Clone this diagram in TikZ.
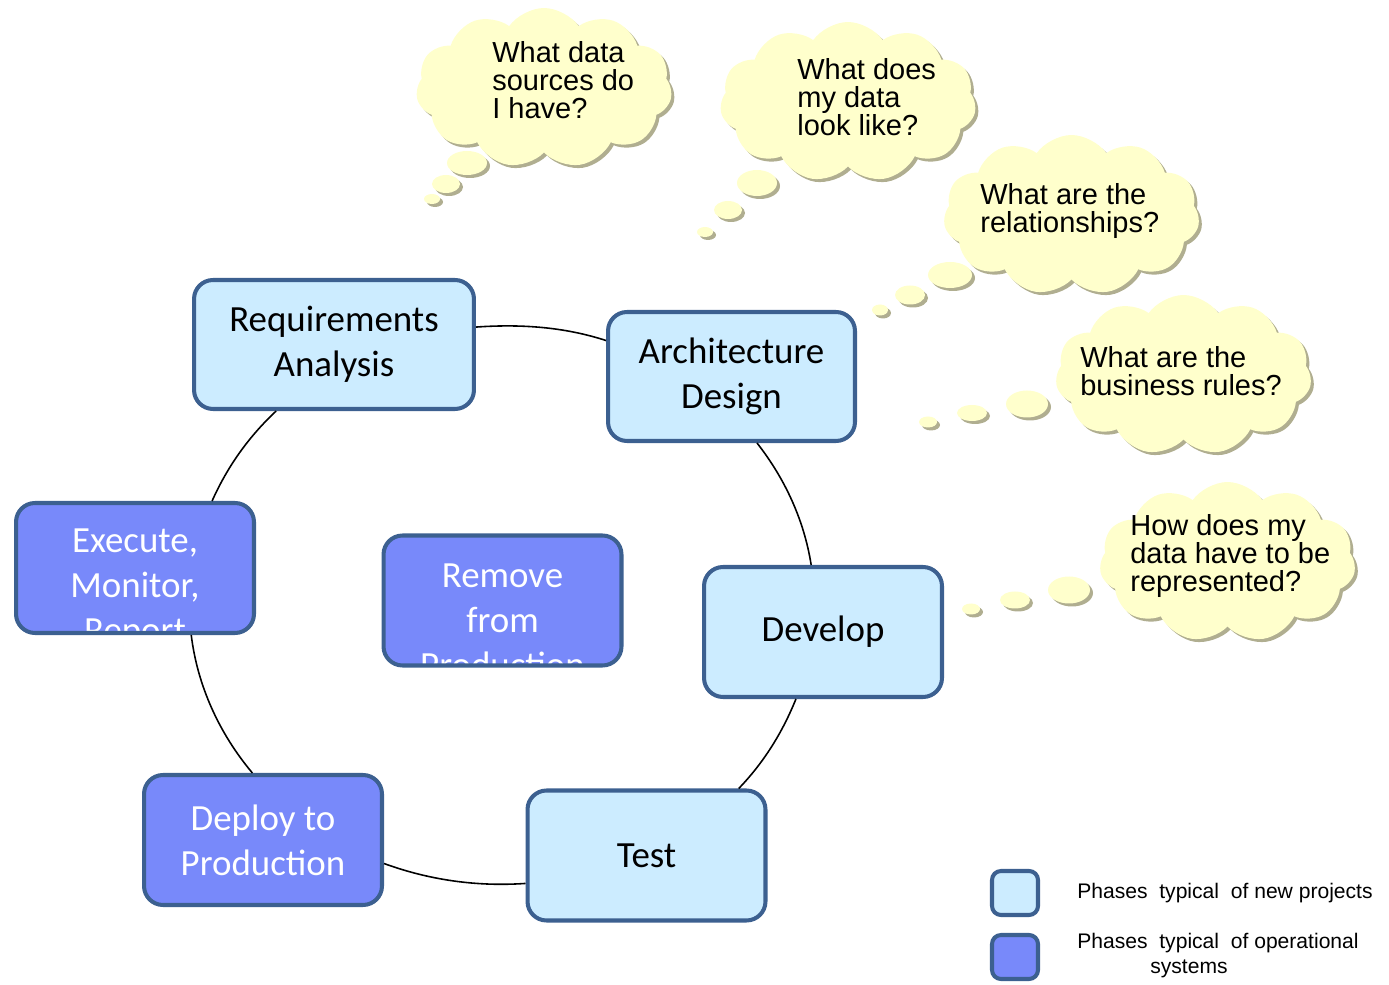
\documentclass[tikz,border=0pt]{standalone}
\usepackage{fontspec}
\setmainfont{Carlito}
\newfontfamily\arialfont{Liberation Sans}
\usetikzlibrary{shapes.symbols,shapes.geometric,shadows}
\definecolor{newfill}{HTML}{CCECFF}
\definecolor{opfill}{HTML}{7889FA}
\definecolor{phaseline}{HTML}{3C6090}
\definecolor{thoughtfill}{HTML}{FFFFCC}
\definecolor{thoughtshade}{HTML}{B0AE90}

\begin{document}
\begin{tikzpicture}[
  x = 0.02cm, y = 0.02cm,
  phase/.style = {draw = phaseline, line width = 2.3pt, rounded corners = 0.38cm,
                  minimum width = 4.76cm, minimum height = 2.6cm, align = center,
                  font = \fontsize{21}{25.6}\selectfont},
  newphase/.style = {phase, fill = newfill},
  oldphase/.style = {phase, fill = opfill, text = white},
  cliptext/.style = {draw = none, fill = none, path picture = {}, inner sep = 0pt,
                     minimum size = 0pt, align = center, text = white,
                     font = \fontsize{21}{25.6}\selectfont},
  shade/.style = {drop shadow = {shadow xshift = 0.06cm, shadow yshift = -0.06cm,
                  fill = thoughtshade, opacity = 1}},
  thought/.style = {cloud, cloud puffs = 11, cloud puff arc = 110, aspect = 1.6,
                    fill = thoughtfill, inner sep = 0pt, shade,
                    minimum width = 5.12cm, minimum height = 3.2cm},
  bubble/.style = {ellipse, fill = thoughtfill, inner sep = 0pt, shade},
  question/.style = {anchor = west, inner sep = 0pt, align = left,
                     font = \arialfont\fontsize{16.5}{16}\selectfont},
  key/.style = {phase, minimum width = 0.92cm, minimum height = 0.88cm,
                rounded corners = 0.18cm},
  legend/.style = {inner sep = 0pt, font = \arialfont\fontsize{12}{14}\selectfont},
  ring/.style = {line width = 0.9pt, looseness = 0.87},
  ]
  \useasboundingbox (0,0) rectangle (1389,984);

  \node[newphase, minimum width = 5.6cm, minimum height = 2.58cm] (req) at (334,639.5)
    {Requirements\\Analysis};
  \node[newphase, minimum width = 4.94cm, minimum height = 2.58cm] (arch) at (731.5,607.5)
    {Architecture\\Design};
  \node[newphase] (dev) at (823,352) {Develop};
  \node[newphase] (test) at (646.5,128.5) {Test};
  \node[oldphase] (deploy) at (263,144) {Deploy to\\Production};
  \node[oldphase, path picture = {
      \node[cliptext] (execlabel) at ([yshift = -0.42cm]path picture bounding box.center)
        {Execute,\\Monitor,\\Report};}] (exec) at (135,416) {};
  \node[oldphase, path picture = {
      \node[cliptext] (removelabel) at ([yshift = -0.41cm]path picture bounding box.center)
        {Remove\\from\\Production};}] (remove) at (502.5,383.5) {};

  \draw[ring] (req.7) to[out = 4, in = 162] (arch.164);
  \draw[ring] (arch.-69) to[out = -52, in = 99] (dev.100);
  \draw[ring] (dev.248) to[out = 248, in = 46] (test.36);
  \draw[ring] (test.193) to[out = 184, in = -20] (deploy.-11);
  \draw[ring] (deploy.99) to[out = 130, in = -83] (exec.-50);
  \draw[ring] (exec.41) to[out = 66, in = 223] (req.229);

  \node[thought] (sources) at (544,896) {};
  \node[bubble, minimum width = 0.8cm, minimum height = 0.48cm] (sources1) at (467,821) {};
  \node[bubble, minimum width = 0.56cm, minimum height = 0.36cm] (sources2) at (446,800) {};
  \node[bubble, minimum width = 0.32cm, minimum height = 0.2cm] (sources3) at (432,785) {};
  \node[question] (sourcesq) at (492,904) {What data\\sources do\\I have?};

  \node[thought] (looks) at (848,882) {};
  \node[bubble, minimum width = 0.8cm, minimum height = 0.52cm] (looks1) at (757,801) {};
  \node[bubble, minimum width = 0.56cm, minimum height = 0.36cm] (looks2) at (728,774) {};
  \node[bubble, minimum width = 0.32cm, minimum height = 0.2cm] (looks3) at (705,752) {};
  \node[question] (looksq) at (797,887) {What does\\my data\\look like?};

  \node[thought] (relations) at (1071.5,769) {};
  \node[bubble, minimum width = 0.88cm, minimum height = 0.52cm] (relations1) at (950,709) {};
  \node[bubble, minimum width = 0.6cm, minimum height = 0.38cm] (relations2) at (910,689) {};
  \node[bubble, minimum width = 0.32cm, minimum height = 0.22cm] (relations3) at (880,674) {};
  \node[question] (relationsq) at (980,773) {What are the\\relationships?};

  \node[thought] (rules) at (1183.5,609) {};
  \node[bubble, minimum width = 0.84cm, minimum height = 0.54cm] (rules1) at (1027,580) {};
  \node[bubble, minimum width = 0.6cm, minimum height = 0.32cm] (rules2) at (972,571) {};
  \node[bubble, minimum width = 0.36cm, minimum height = 0.22cm] (rules3) at (928,562) {};
  \node[question] (rulesq) at (1080,613) {What are the\\business rules?};

  \node[thought] (shape) at (1227.5,422) {};
  \node[bubble, minimum width = 0.84cm, minimum height = 0.54cm] (shape1) at (1069,394) {};
  \node[bubble, minimum width = 0.6cm, minimum height = 0.34cm] (shape2) at (1015,384) {};
  \node[bubble, minimum width = 0.36cm, minimum height = 0.22cm] (shape3) at (971,375) {};
  \node[question] (shapeq) at (1130,428) {How does my\\data have to be\\represented?};

  \node[key, fill = newfill] (keynew) at (1015,91) {};
  \node[key, fill = opfill] (keyop) at (1015,27) {};
  \node[legend] (keynewtext) at (1225,91) {Phases\ \ typical\ \ of new projects};
  \node[legend, anchor = west, align = left] (keyoptext) at (1077,28.5)
    {Phases\ \ typical\ \ of operational\\\hspace*{1.46cm}systems};
\end{tikzpicture}
\end{document}
